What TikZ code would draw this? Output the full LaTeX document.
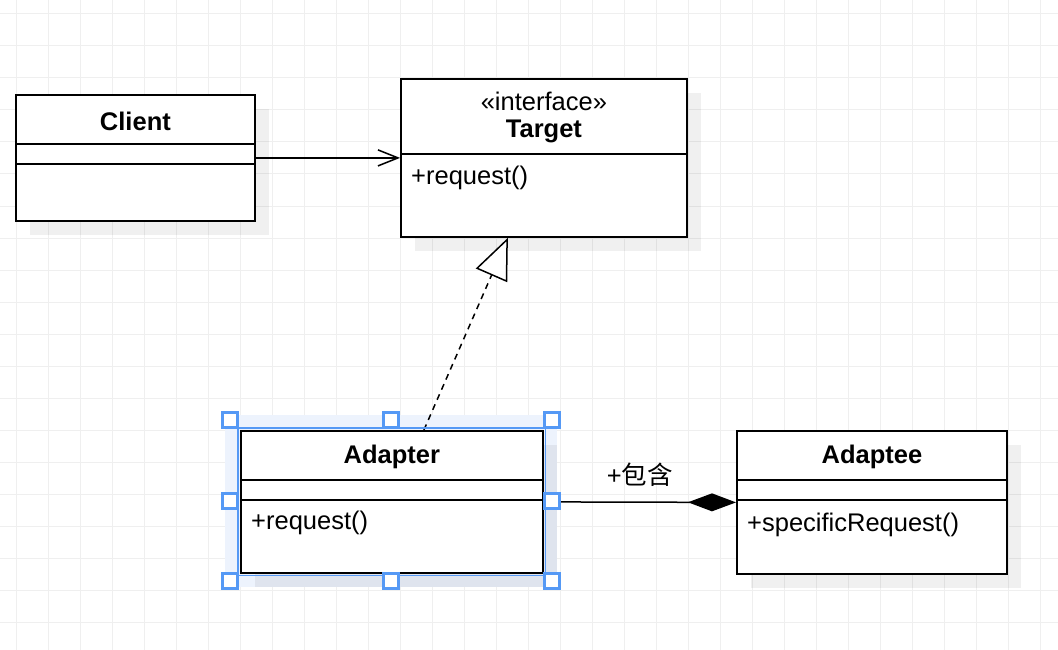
\documentclass[tikz,border=0pt]{standalone}
\usepackage{fontspec}
\setmainfont{Liberation Sans}
\newfontfamily\cjkfont{Noto Sans CJK SC}
\usetikzlibrary{arrows.meta,shadows}

\definecolor{gridgray}{HTML}{EFEFEF}
\definecolor{selblue}{HTML}{5599F5}
\definecolor{glowblue}{HTML}{EDF3FD}

\tikzset{
  umlclass/.style={draw, fill=white, line width=1.8pt, anchor=north west, inner sep=0pt,
    drop shadow={shadow xshift=14pt, shadow yshift=-14pt, fill=black, opacity=0.06}},
  classname/.style={font=\fontsize{25.5}{30}\selectfont\bfseries, inner sep=0pt},
  member/.style={anchor=west, inner sep=0pt},
  handle/.style={draw=selblue, fill=white, line width=2.2pt, minimum size=15pt, inner sep=0pt},
  assoc/.style={line width=1.5pt, -{Straight Barb[length=20pt, width=16pt]}},
  realize/.style={line width=1.5pt, dash pattern=on 6pt off 5pt,
    -{Triangle[open, length=41pt, width=34pt, fill=white]}},
  compose/.style={line width=1.5pt, -{Diamond[length=48pt, width=18pt]}},
}

\begin{document}
\begin{tikzpicture}[x=1pt, y=-1pt, font=\fontsize{25.5}{30}\selectfont]
    \useasboundingbox (0,0) rectangle (1058,650);
    \fill[white] (0,0) rectangle (1058,650);
    % grid
    \foreach \x in {16,48,...,1040} {
      \draw[gridgray, line width=1pt] (\x,0) -- (\x,650);
    }
    \foreach \y in {14,46,...,622} {
      \draw[gridgray, line width=1pt] (0,\y) -- (1058,\y);
    }

    % selection glow
    \fill[glowblue] (225,415) rectangle (557,587);

    % classes
    \node[umlclass, minimum width=239pt, minimum height=126pt] (client) at (15,94) {};
    \node[classname] (clientname) at (client.north |- 0,121) {Client};
    \draw[line width=1.8pt] (client.west |- 0,144) -- (client.east |- 0,144);
    \draw[line width=1.8pt] (client.west |- 0,164) -- (client.east |- 0,164);

    \node[umlclass, minimum width=286pt, minimum height=158pt] (target) at (400,78) {};
    \node[inner sep=0pt] (targetstereo) at (target.north |- 0,101) {«interface»};
    \node[classname] (targetname) at (target.north |- 0,131) {Target};
    \draw[line width=1.8pt] (target.west |- 0,154) -- (target.east |- 0,154);
    \node[member] (targetop) at (411,178) {+request()};

    \node[umlclass, minimum width=302pt, minimum height=142pt] (adapter) at (240,430) {};
    \node[classname] (adaptername) at (adapter.north |- 0,457) {Adapter};
    \draw[line width=1.8pt] (adapter.west |- 0,480) -- (adapter.east |- 0,480);
    \draw[line width=1.8pt] (adapter.west |- 0,500) -- (adapter.east |- 0,500);
    \node[member] (adapterop) at (251,523) {+request()};

    \node[umlclass, minimum width=270pt, minimum height=143pt] (adaptee) at (736,430) {};
    \node[classname] (adapteename) at (adaptee.north |- 0,457) {Adaptee};
    \draw[line width=1.8pt] (adaptee.west |- 0,480) -- (adaptee.east |- 0,480);
    \draw[line width=1.8pt] (adaptee.west |- 0,500) -- (adaptee.east |- 0,500);
    \node[member] (adapteeop) at (747,525) {+specificRequest()};

    % relations
    \draw[assoc] (client) -- (target);
    \draw[realize] ([xshift=32pt]adapter.north) -- ([xshift=-36pt]target.south);
    \draw[compose] (adapter.east) -- node[midway, yshift=27pt] (contains) {+{\cjkfont 包含}} (adaptee.west);

    % selection handles
    \draw[selblue, line width=1.2pt] ([shift={(-2pt,2pt)}]adapter.north west) rectangle ([shift={(2pt,-2pt)}]adapter.south east);
    \foreach \hx/\hy in {230/420, 391/420, 552/420, 230/501, 552/501, 230/581, 391/581, 552/581} {
      \node[handle] at (\hx,\hy) {};
    }
\end{tikzpicture}
\end{document}
